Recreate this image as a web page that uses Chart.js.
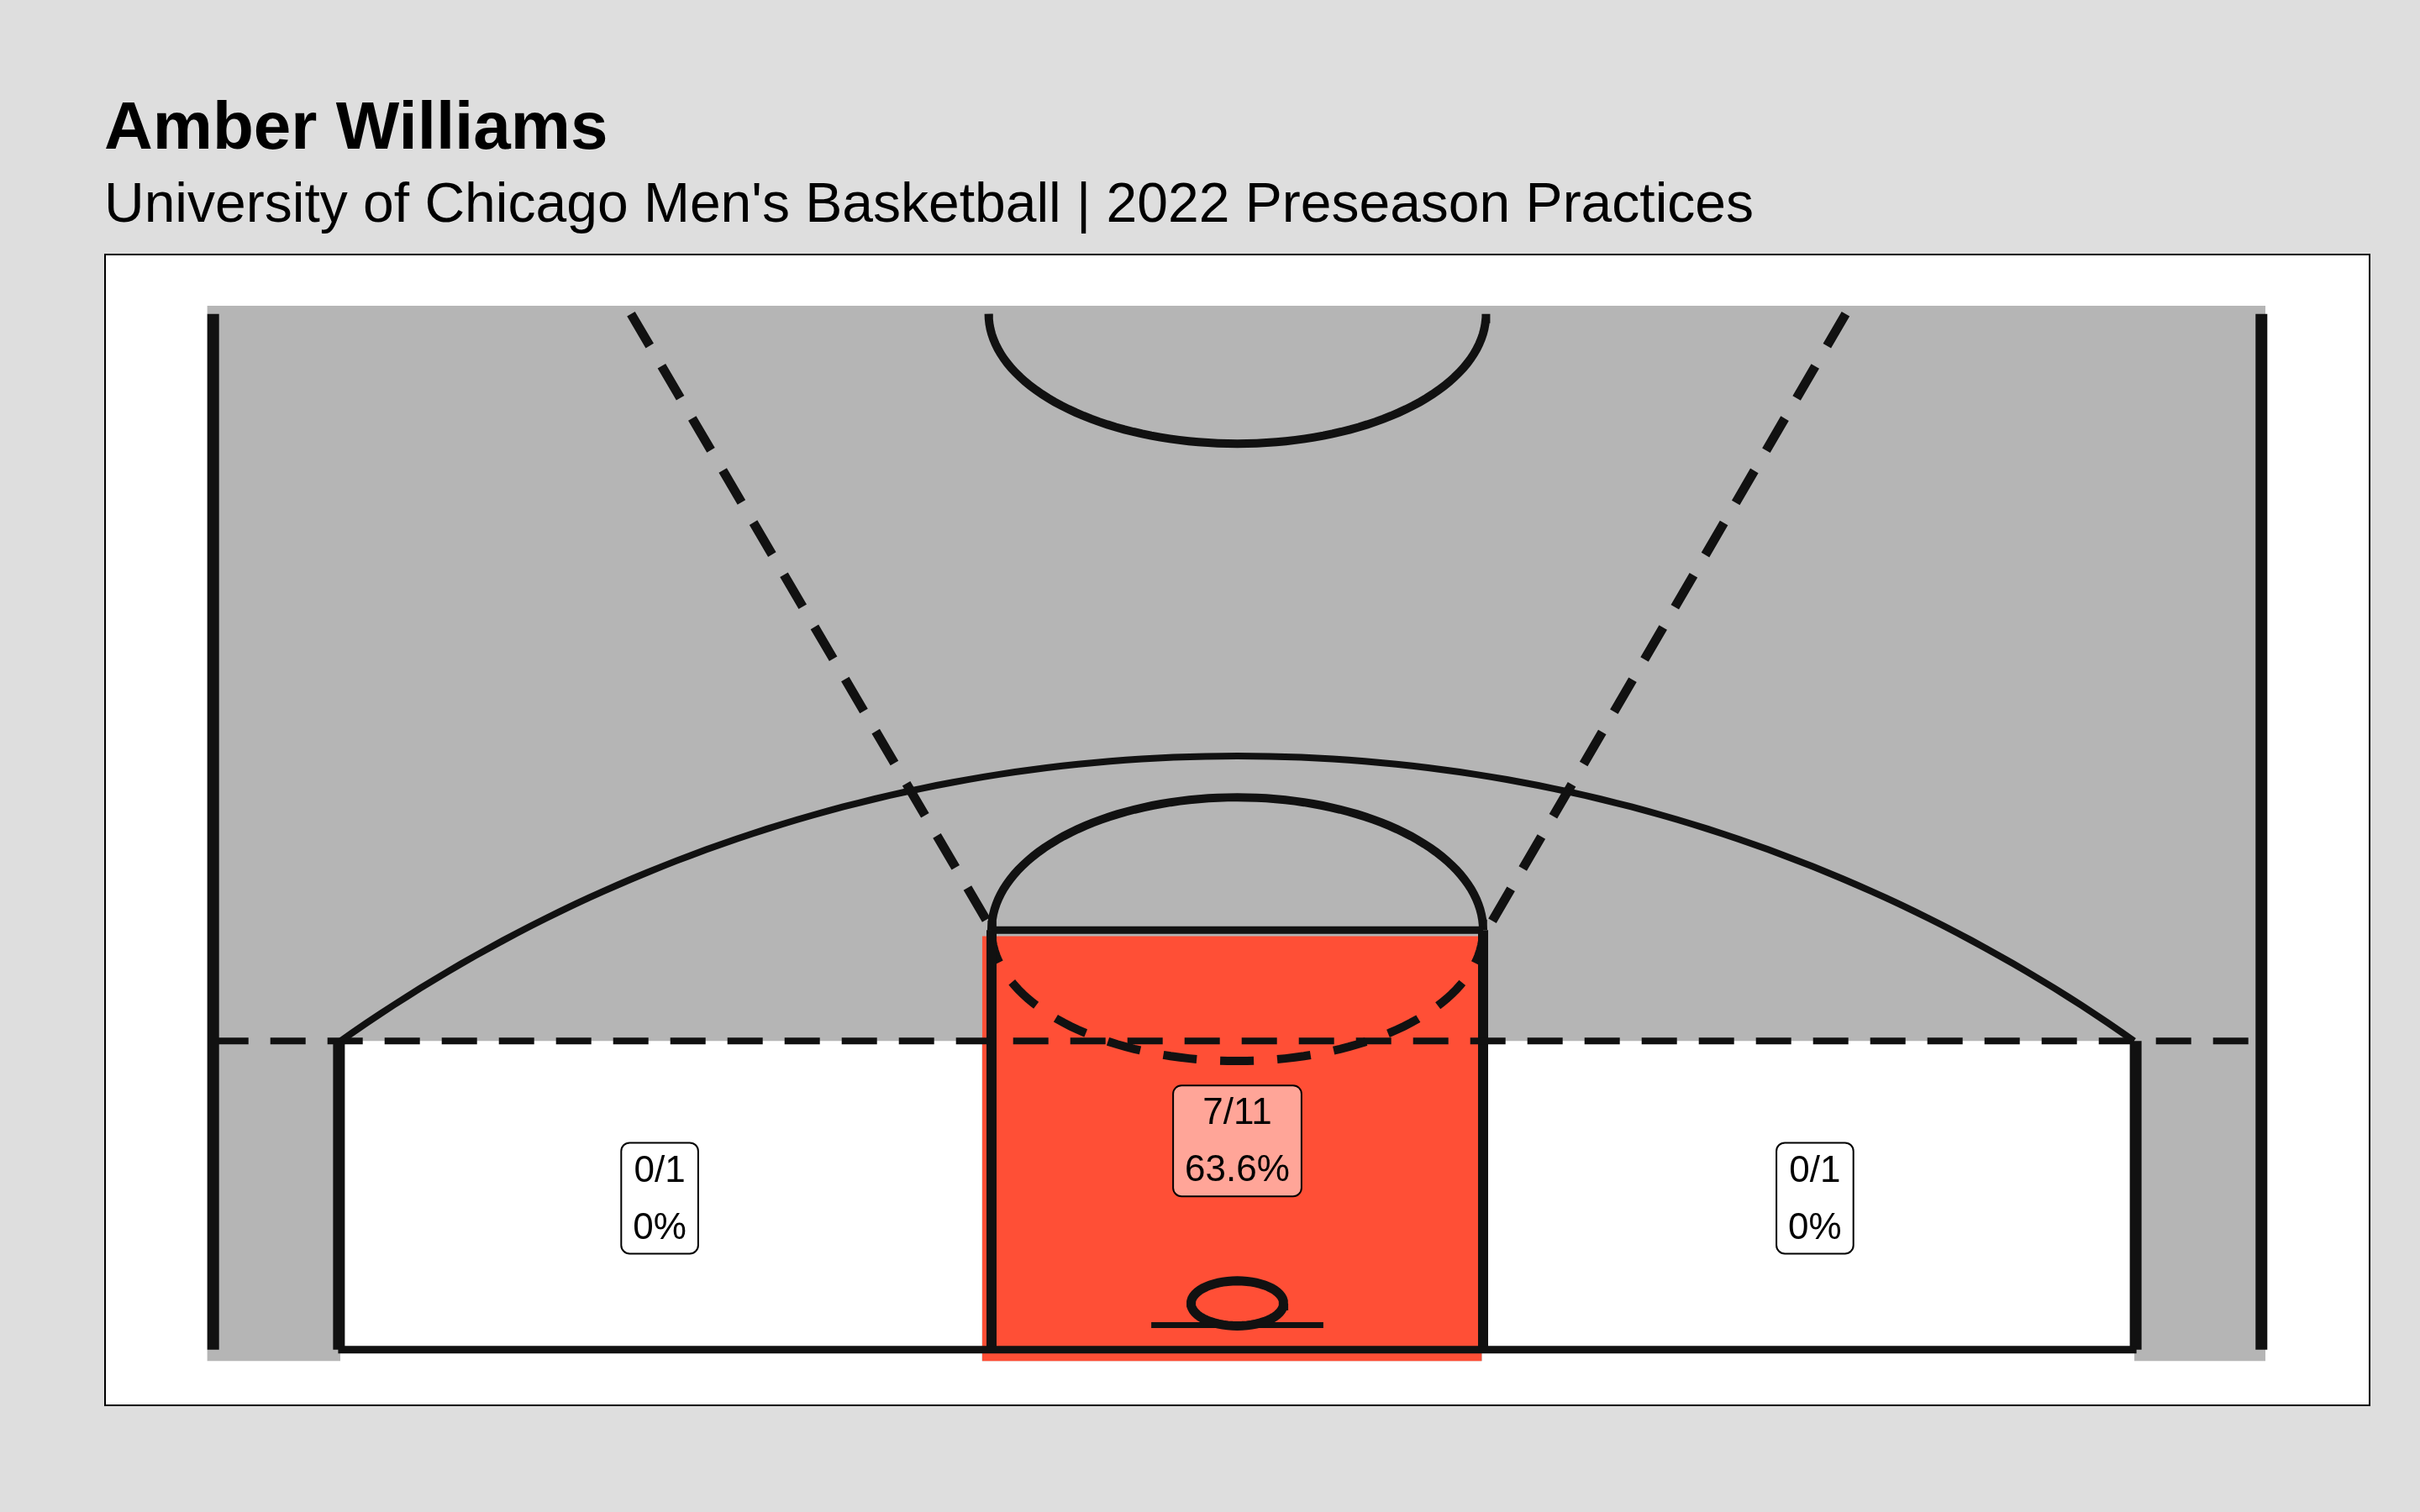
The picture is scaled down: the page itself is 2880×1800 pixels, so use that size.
<!DOCTYPE html>
<html>
<head>
<meta charset="utf-8">
<script src="https://cdn.jsdelivr.net/npm/chart.js@4.4.1/dist/chart.umd.min.js"></script>
<style>
  html, body { margin: 0; padding: 0; background: #dedede; }
  #wrap { width: 2880px; height: 1800px; }
</style>
</head>
<body>
<div id="wrap"><canvas id="court"></canvas></div>
<script>
// shooting zones and results
var zones = ['Left Corner', 'Paint', 'Right Corner'];
var made = [0, 7, 0];
var attempts = [1, 11, 1];
var labelX = [-14.1, 0, 14.1];
var labelY = [3.7, 5.1, 3.7];
var zoneFill = ['#ffffff', '#ff4f36', '#ffffff'];
var labelFill = ['#ffffff', '#ffa598', '#ffffff'];

var titleText = 'Amber Williams';
var subtitleText = "University of Chicago Men's Basketball | 2022 Preseason Practices";

// court geometry in feet (baseline at y = 0)
function ellipse(cx, cy, rx, ry, a0, a1, n) {
    var pts = [];
    for (var i = 0; i <= n; i++) {
        var a = a0 + (a1 - a0) * i / n;
        pts.push({x: cx + rx * Math.cos(a), y: cy + ry * Math.sin(a)});
    }
    return pts;
}
function rect(x1, x2, top, bottom, color, order) {
    return {data: [{x: x1, y: top}, {x: x2, y: top}], fill: {value: bottom},
        backgroundColor: color, borderWidth: 0, pointRadius: 0, order: order};
}
function line(pts, width, dash, order) {
    return {data: pts, borderColor: '#111111', borderWidth: width, borderDash: dash || [],
        fill: false, pointRadius: 0, order: order, borderCapStyle: 'butt'};
}

var cornerY = 7.54;
var paintTop = 10.25;
// 3pt arc through (±21.93, 7.54) and (0, 14.5)
var arcC = -23.4, arcR = 37.9;
var arcA = Math.asin((cornerY - arcC) / arcR);

var datasets = [
    rect(-25.15, 25.1, 25.5, -0.28, '#b5b5b5', 100),
    rect(-21.9, -6.23, cornerY, -0.3, zoneFill[0], 90),
    rect(5.97, 21.9, cornerY, -0.3, zoneFill[2], 90),
    rect(-6.23, 5.97, 10.1, -0.28, zoneFill[1], 90),
    line([{x: -25, y: 0}, {x: -25, y: 25.3}], 14, null, 10),
    line([{x: 25, y: 0}, {x: 25, y: 25.3}], 14, null, 10),
    line([{x: -21.95, y: 0}, {x: 21.95, y: 0}], 9, null, 10),
    line([{x: -21.93, y: 0}, {x: -21.93, y: cornerY}], 14, null, 10),
    line([{x: 21.93, y: 0}, {x: 21.93, y: cornerY}], 14, null, 10),
    line([{x: -25, y: cornerY}, {x: 25, y: cornerY}], 8, [42, 26], 10),
    line(ellipse(0, arcC, arcR, arcR, Math.PI - arcA, arcA, 120), 8, null, 10),
    line([{x: -6.0, y: 0}, {x: -6.0, y: paintTop}], 12, null, 10),
    line([{x: 6.0, y: 0}, {x: 6.0, y: paintTop}], 12, null, 10),
    line([{x: -6.0, y: paintTop}, {x: 6.0, y: paintTop}], 9, null, 10),
    line(ellipse(0, paintTop, 6.0, 3.24, Math.PI, 0, 80), 10, null, 10),
    line(ellipse(0, paintTop, 6.0, 3.2, Math.PI, 2 * Math.PI, 80), 10, [40, 28], 10),
    line(ellipse(0, 25.3, 6.07, 3.17, Math.PI, 2 * Math.PI, 80), 10, null, 10),
    line([{x: -14.8, y: 25.3}, {x: -6.1, y: 10.45}], 11, [44, 28], 10),
    line([{x: 14.85, y: 25.3}, {x: 5.95, y: 10.0}], 11, [44, 28], 10),
    line(ellipse(0, 1.13, 1.13, 0.55, 0, 2 * Math.PI, 60), 11, null, 10),
    line([{x: -2.1, y: 0.6}, {x: 2.1, y: 0.6}], 7, null, 10)
];
datasets.forEach(function (d) { d.showLine = true; d.tension = 0; });

var decorPlugin = {
    id: 'decor',
    beforeDraw: function (chart) {
        var ctx = chart.ctx, a = chart.chartArea;
        ctx.save();
        ctx.fillStyle = '#dedede';
        ctx.fillRect(0, 0, chart.width, chart.height);
        ctx.fillStyle = '#ffffff';
        ctx.fillRect(a.left, a.top, a.right - a.left, a.bottom - a.top);
        ctx.fillStyle = '#000000';
        ctx.textBaseline = 'alphabetic';
        ctx.font = 'bold 80px Liberation Sans, Arial, sans-serif';
        ctx.fillText(titleText, 124, 177);
        ctx.font = '66px Liberation Sans, Arial, sans-serif';
        ctx.fillText(subtitleText, 124, 264);
        ctx.restore();
    },
    afterDatasetsDraw: function (chart) {
        var ctx = chart.ctx, a = chart.chartArea;
        var xs = chart.scales.x, ys = chart.scales.y;
        ctx.save();
        ctx.strokeStyle = '#000000';
        ctx.lineWidth = 2;
        ctx.strokeRect(a.left, a.top, a.right - a.left, a.bottom - a.top);
        ctx.font = '44px Liberation Sans, Arial, sans-serif';
        ctx.textAlign = 'center';
        ctx.textBaseline = 'middle';
        for (var i = 0; i < zones.length; i++) {
            var l1 = made[i] + '/' + attempts[i];
            var pct = 100 * made[i] / attempts[i];
            var l2 = (Math.round(pct * 10) / 10) + '%';
            var w = Math.max(ctx.measureText(l1).width, ctx.measureText(l2).width) + 28;
            var h = 132;
            var cx = xs.getPixelForValue(labelX[i]), cy = ys.getPixelForValue(labelY[i]);
            ctx.beginPath();
            ctx.roundRect(cx - w / 2, cy - h / 2, w, h, 10);
            ctx.fillStyle = labelFill[i];
            ctx.fill();
            ctx.lineWidth = 2;
            ctx.stroke();
            ctx.fillStyle = '#000000';
            ctx.fillText(l1, cx, cy - 32);
            ctx.fillText(l2, cx, cy + 36);
        }
        ctx.restore();
    }
};

new Chart(document.getElementById('court'), {
    type: 'line',
    data: {datasets: datasets},
    options: {
        responsive: true,
        maintainAspectRatio: false,
        devicePixelRatio: 1,
        animation: false,
        layout: {padding: {left: 125, right: 60, top: 303, bottom: 127}},
        plugins: {legend: {display: false}, tooltip: {enabled: false}},
        scales: {
            x: {type: 'linear', min: -27.64, max: 27.64, display: false},
            y: {type: 'linear', min: -1.36, max: 26.75, display: false}
        }
    },
    plugins: [decorPlugin]
});
</script>
</body>
</html>
